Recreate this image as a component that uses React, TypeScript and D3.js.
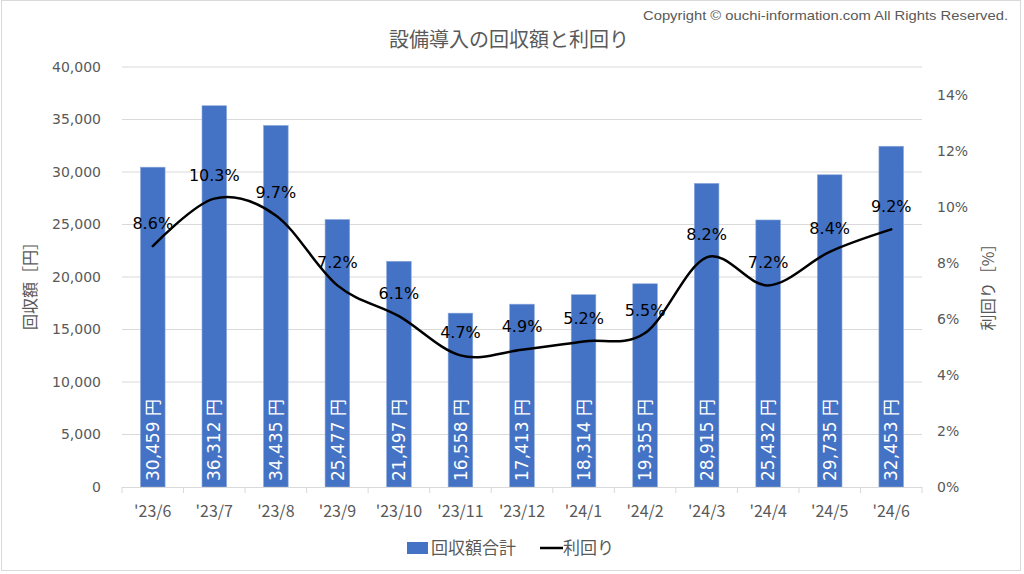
import React from "react";
import * as d3 from "d3";

const categories = ["'23/6", "'23/7", "'23/8", "'23/9", "'23/10", "'23/11", "'23/12", "'24/1", "'24/2", "'24/3", "'24/4", "'24/5", "'24/6"];
const amounts = [30459, 36312, 34435, 25477, 21497, 16558, 17413, 18314, 19355, 28915, 25432, 29735, 32453];
const yields = [8.6, 10.3, 9.7, 7.2, 6.1, 4.7, 4.9, 5.2, 5.5, 8.2, 7.2, 8.4, 9.2];
const leftTicks = [0, 5000, 10000, 15000, 20000, 25000, 30000, 35000, 40000];
const rightTicks = [0, 2, 4, 6, 8, 10, 12, 14];

const W = 1024;
const H = 574;
const PL = 122, PR = 922, PT = 67, PB = 487;
const GRAY = "#595959";
const BLUE = "#4472C4";
const JP = "'Noto Sans CJK JP', sans-serif";
const NUM = "'DejaVu Sans', 'Noto Sans CJK JP', sans-serif";

export default function App() {
  const x = d3.scaleBand<string>().domain(categories).range([PL, PR]).padding(0);
  const bw = x.bandwidth() * 0.4;
  const yL = d3.scaleLinear().domain([0, 40000]).range([PB, PT]);
  const yR = d3.scaleLinear().domain([0, 15]).range([PB, PT]);
  const cx = (c: string) => (x(c) as number) + x.bandwidth() / 2;
  const pts: [number, number][] = categories.map((c, i) => [cx(c), yR(yields[i])]);
  const line = d3.line().curve(d3.curveCardinal.tension(0))(pts) as string;
  const fmt = d3.format(",");

  return (
    <svg width={W} height={H} style={{ position: "absolute", left: 0, top: 0, background: "#fff" }}>
      <rect x={1.5} y={0.5} width={1019} height={570} fill="#fff" stroke="#d9d9d9" strokeWidth={1} />
      <text x={1008} y={20} textAnchor="end" fontFamily="'Liberation Sans', sans-serif" fontSize={13.5} fill={GRAY} textLength={365} lengthAdjust="spacingAndGlyphs">
        Copyright © ouchi-information.com All Rights Reserved.
      </text>
      <text x={509} y={47} textAnchor="middle" fontFamily={JP} fontSize={20} fill={GRAY}>
        設備導入の回収額と利回り
      </text>
      {leftTicks.map((t) => (
        <g key={t}>
          {t > 0 && <line x1={PL} x2={PR} y1={yL(t)} y2={yL(t)} stroke="#d9d9d9" strokeWidth={1} />}
          <text x={101} y={yL(t)} dy="0.35em" textAnchor="end" fontFamily={NUM} fontSize={14} fill={GRAY}>
            {fmt(t)}
          </text>
        </g>
      ))}
      {rightTicks.map((t) => (
        <text key={t} x={937} y={yR(t)} dy="0.35em" textAnchor="start" fontFamily={NUM} fontSize={14} fill={GRAY}>
          {t}%
        </text>
      ))}
      <text transform={`translate(30,282) rotate(-90)`} textAnchor="middle" dy="0.35em" fontFamily={JP} fontSize={16} fill={GRAY}>
        回収額［円］
      </text>
      <text transform={`translate(988,283) rotate(-90)`} textAnchor="middle" dy="0.35em" fontFamily={JP} fontSize={16} fill={GRAY}>
        利回り［%］
      </text>
      {categories.map((c, i) => (
        <g key={c}>
          <rect x={cx(c) - bw / 2} y={yL(amounts[i])} width={bw} height={PB - yL(amounts[i])} fill={BLUE} stroke="#8eaadb" strokeWidth={0.6} />
          <text transform={`translate(${cx(c)},${PB - 6}) rotate(-90)`} dy="0.36em" textAnchor="start" fontFamily={NUM} fontSize={17} fill="#fff">
            {fmt(amounts[i])} 円
          </text>
        </g>
      ))}
      <line x1={PL} x2={PR} y1={PB + 0.5} y2={PB + 0.5} stroke="#d9d9d9" strokeWidth={1} />
      {d3.range(categories.length + 1).map((i) => (
        <line key={i} x1={PL + i * x.bandwidth()} x2={PL + i * x.bandwidth()} y1={PB} y2={PB + 6} stroke="#d9d9d9" strokeWidth={1} />
      ))}
      {categories.map((c) => (
        <text key={c} x={cx(c)} y={511} dy="0.35em" textAnchor="middle" fontFamily={JP} fontSize={16} fill={GRAY}>
          {c}
        </text>
      ))}
      <path d={line} fill="none" stroke="#000" strokeWidth={2.5} strokeLinecap="round" />
      {categories.map((c, i) => (
        <text key={c} x={cx(c)} y={yR(yields[i]) - 23} dy="0.35em" textAnchor="middle" fontFamily={NUM} fontSize={16} fill="#000">
          {yields[i].toFixed(1)}%
        </text>
      ))}
      <g>
        <rect x={407} y={542} width={21} height={12} fill={BLUE} />
        <text x={431} y={548} dy="0.35em" fontFamily={JP} fontSize={17} fill={GRAY}>回収額合計</text>
        <line x1={540} x2={563} y1={548} y2={548} stroke="#000" strokeWidth={2.5} />
        <text x={563} y={548} dy="0.35em" fontFamily={JP} fontSize={17} fill={GRAY}>利回り</text>
      </g>
    </svg>
  );
}
